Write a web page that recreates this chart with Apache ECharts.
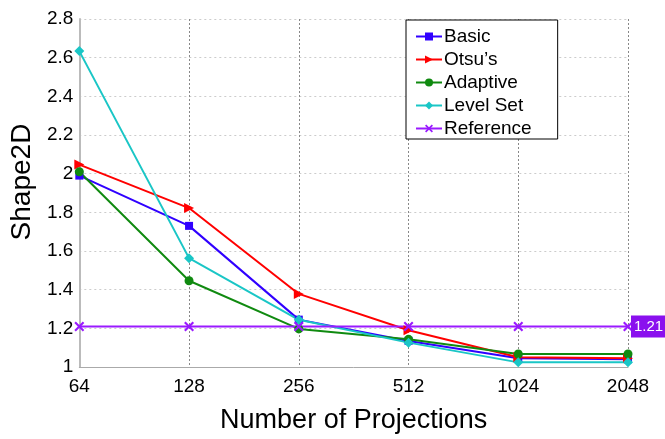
<!DOCTYPE html>
<html><head><meta charset="utf-8">
<script src="https://cdn.jsdelivr.net/npm/echarts@6/dist/echarts.min.js"></script>
<style>html,body{margin:0;padding:0;background:#fff}#c{width:665px;height:439px}</style>
</head><body><div id="c"></div>
<script>
var categories = ['64','128','256','512','1024','2048'];
var basic    = [1.99, 1.73, 1.245, 1.135, 1.045, 1.04];
var otsu     = [2.047, 1.822, 1.378, 1.19, 1.05, 1.045];
var adaptive = [2.01, 1.446, 1.197, 1.143, 1.067, 1.067];
var levelSet = [2.634, 1.563, 1.244, 1.126, 1.024, 1.024];
var reference = [1.21, 1.21, 1.21, 1.21, 1.21, 1.21];
var yTicks = [1, 1.2, 1.4, 1.6, 1.8, 2, 2.2, 2.4, 2.6, 2.8];

var font = 'Liberation Sans, Arial, sans-serif';
var crossPath = 'path://M0,1.5L1.5,0L5,3.5L8.5,0L10,1.5L6.5,5L10,8.5L8.5,10L5,6.5L1.5,10L0,8.5L3.5,5Z';

function mk(name, data, color, symbol, rot, size) {
  return {
    name: name, type: 'line', data: data, symbol: symbol, symbolSize: size,
    symbolRotate: rot || 0, showAllSymbol: true,
    lineStyle: {color: color, width: 2}, itemStyle: {color: color},
    emphasis: {disabled: true}, animation: false
  };
}
var series = [
  mk('Basic', basic, '#3000ff', 'rect', 0, 8),
  mk('Otsu\u2019s', otsu, '#ff0000', 'triangle', -90, 10),
  mk('Adaptive', adaptive, '#108a10', 'circle', 0, 9),
  mk('Level Set', levelSet, '#1ac6c6', 'diamond', 0, 10),
  mk('Reference', reference, '#9a1aff', crossPath, 0, 10)
];
series[4].endLabel = {
  show: true, formatter: function(p){ return p.value.toFixed(2); },
  color: '#fff', backgroundColor: '#8a10ee', padding: [4, 3, 3, 3],
  fontFamily: font, fontSize: 15, distance: 3
};

var chart = echarts.init(document.getElementById('c'), null, {renderer: 'canvas'});
chart.setOption({
  animation: false,
  backgroundColor: '#fff',
  grid: {left: 79, right: 37, top: 19, bottom: 72, containLabel: false},
  legend: {
    show: true, orient: 'vertical', left: 406, top: 20, itemGap: 4,
    itemWidth: 26, itemHeight: 10, padding: [7, 26, 1, 9],
    borderColor: '#000', borderWidth: 1, backgroundColor: '#fff',
    textStyle: {fontFamily: font, fontSize: 19, lineHeight: 19, color: '#000', padding: [0,0,0,-3]},
    data: ['Basic','Otsu\u2019s','Adaptive','Level Set','Reference']
  },
  xAxis: {
    type: 'category', data: categories, boundaryGap: false,
    name: 'Number of Projections', nameLocation: 'middle', nameGap: 40,
    nameTextStyle: {fontFamily: font, fontSize: 27, color: '#000'},
    axisLine: {lineStyle: {color: '#aaa', width: 1}},
    axisTick: {show: false},
    axisLabel: {fontFamily: font, fontSize: 19, color: '#000', margin: 10},
    splitLine: {show: true, lineStyle: {color: '#888', type: [2, 2], width: 1}}
  },
  yAxis: {
    type: 'value', min: 1, max: 2.8, interval: 0.2,
    name: 'Shape2D', nameLocation: 'middle', nameGap: 43,
    nameTextStyle: {fontFamily: font, fontSize: 28, color: '#000', padding: [0, 0, 0, 22]},
    axisLine: {show: true, lineStyle: {color: '#bbb', width: 2}},
    axisTick: {show: false},
    axisLabel: {fontFamily: font, fontSize: 19, color: '#000', margin: 6,
      formatter: function(v){ var r = Math.round(v*10)/10; return yTicks.indexOf(r) >= 0 ? String(r) : ''; }},
    splitLine: {show: true, lineStyle: {color: '#ccc', type: [2, 3], width: 1}}
  },
  series: series
});
</script></body></html>
